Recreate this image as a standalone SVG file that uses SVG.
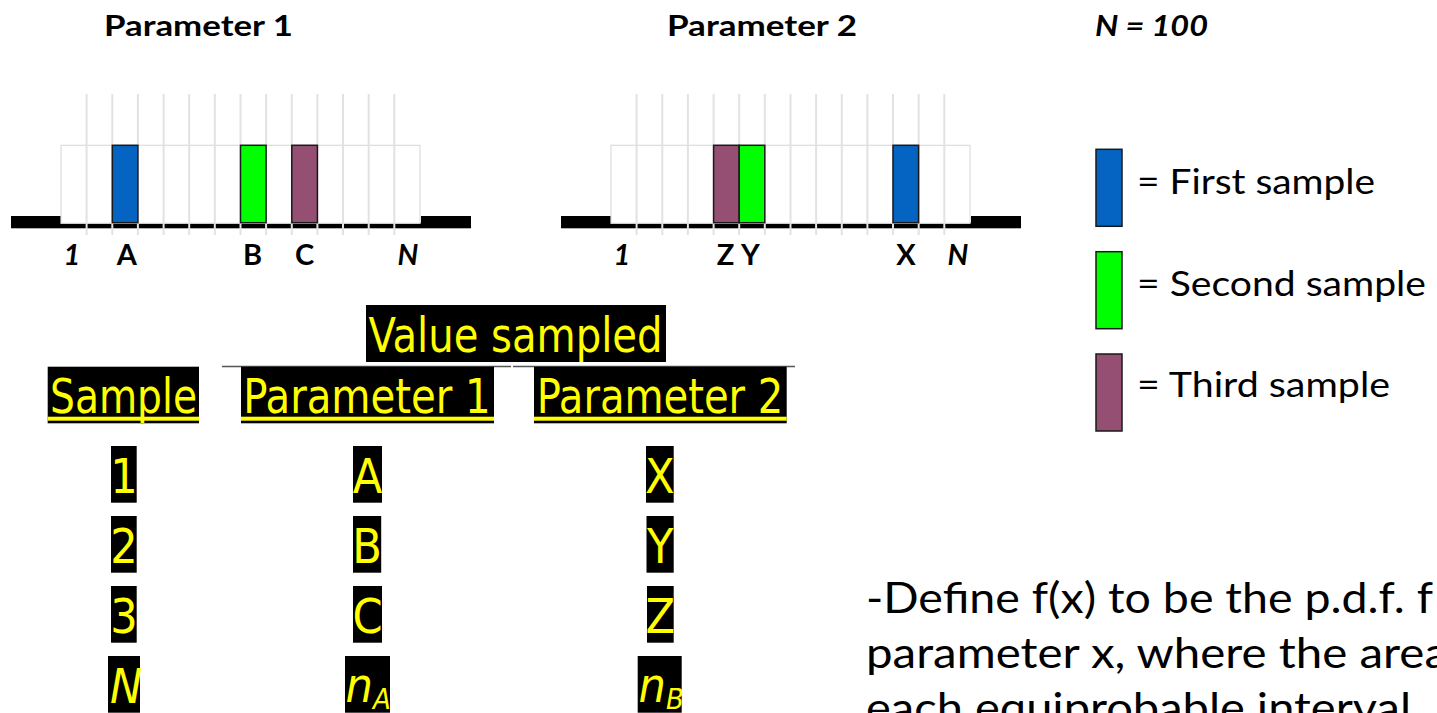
<svg xmlns="http://www.w3.org/2000/svg" xmlns:xlink="http://www.w3.org/1999/xlink" width="1437" height="713" viewBox="0 0 1437 713">
<style>
.title{font-family:Lato,"Liberation Sans",sans-serif;font-weight:bold;font-size:28px;fill:#000}
.axis{font-family:Lato,"Liberation Sans",sans-serif;font-weight:bold;font-size:29px;fill:#000;text-anchor:middle}
.it{font-style:italic}
.leg{font-family:Lato,"Liberation Sans",sans-serif;font-size:35px;fill:#000}
.para{font-family:Lato,"Liberation Sans",sans-serif;font-size:43px;fill:#000}
.ybox{fill:#000}
.ytxt{font-family:"DejaVu Sans Condensed","DejaVu Sans",sans-serif;font-stretch:condensed;font-size:48px;fill:#FFFF00}
.ymid{text-anchor:middle}
.grid{stroke:#e2e2e2;stroke-width:2}
.bar{stroke:#1a1a1a;stroke-width:1.5}
.blue{fill:#0563C1}
.green{fill:#00FF00}
.purple{fill:#954F72}
</style>
<defs>
<g id="scale">
<rect x="11" y="216" width="50" height="12.3" fill="#000"/>
<rect x="421" y="216" width="50" height="12.3" fill="#000"/>
<rect x="61" y="222.7" width="360" height="5.6" fill="#000"/>
<rect x="61" y="145.3" width="359" height="78" fill="#fff" stroke="#dcdcdc" stroke-width="1.2"/>
<g class="grid">
<line x1="86.6" y1="94" x2="86.6" y2="235"/>
<line x1="112.3" y1="94" x2="112.3" y2="235"/>
<line x1="137.9" y1="94" x2="137.9" y2="235"/>
<line x1="163.6" y1="94" x2="163.6" y2="235"/>
<line x1="189.2" y1="94" x2="189.2" y2="235"/>
<line x1="214.8" y1="94" x2="214.8" y2="235"/>
<line x1="240.5" y1="94" x2="240.5" y2="235"/>
<line x1="266.1" y1="94" x2="266.1" y2="235"/>
<line x1="291.8" y1="94" x2="291.8" y2="235"/>
<line x1="317.4" y1="94" x2="317.4" y2="235"/>
<line x1="343.0" y1="94" x2="343.0" y2="235"/>
<line x1="368.7" y1="94" x2="368.7" y2="235"/>
<line x1="394.3" y1="94" x2="394.3" y2="235"/>
</g>
</g>
</defs>
<rect width="1437" height="713" fill="#fff"/>

<g id="titles">
<text class="title" x="104" y="36" textLength="189" lengthAdjust="spacingAndGlyphs">Parameter 1</text>
<text class="title" x="667" y="36" textLength="190" lengthAdjust="spacingAndGlyphs">Parameter 2</text>
<text class="title it" x="1095" y="36" textLength="113" lengthAdjust="spacingAndGlyphs">N = 100</text>
</g>

<g id="parameter1-scale">
<use xlink:href="#scale" href="#scale"/>
<rect class="bar blue" x="112.3" y="145.3" width="25.6" height="77.4"/>
<rect class="bar green" x="240.5" y="145.3" width="25.6" height="77.4"/>
<rect class="bar purple" x="291.8" y="145.3" width="25.6" height="77.4"/>
<text class="axis it" x="72" y="265">1</text>
<text class="axis" x="126.7" y="265">A</text>
<text class="axis" x="252.5" y="265">B</text>
<text class="axis" x="304.5" y="265">C</text>
<text class="axis it" x="408" y="265">N</text>
</g>

<g id="parameter2-scale">
<use xlink:href="#scale" href="#scale" x="550"/>
<rect class="bar purple" x="713.6" y="145.3" width="25.6" height="77.4"/>
<rect class="bar green" x="739.2" y="145.3" width="25.6" height="77.4"/>
<rect class="bar blue" x="893.0" y="145.3" width="25.6" height="77.4"/>
<text class="axis it" x="622" y="265">1</text>
<text class="axis" x="725.5" y="265">Z</text>
<text class="axis" x="750.5" y="265">Y</text>
<text class="axis" x="906" y="265">X</text>
<text class="axis it" x="958" y="265">N</text>
</g>

<g id="legend">
<rect class="bar blue" x="1096" y="149.3" width="26" height="77"/>
<text class="leg" x="1137" y="194" textLength="238" lengthAdjust="spacingAndGlyphs">= First sample</text>
<rect class="bar green" x="1096" y="251.7" width="26" height="77"/>
<text class="leg" x="1137" y="296" textLength="289" lengthAdjust="spacingAndGlyphs">= Second sample</text>
<rect class="bar purple" x="1096" y="354" width="26" height="77"/>
<text class="leg" x="1137" y="397" textLength="253" lengthAdjust="spacingAndGlyphs">= Third sample</text>
</g>

<g id="table-header">
<rect class="ybox" x="366" y="305" width="300" height="57"/>
<text class="ytxt" x="368.5" y="352" textLength="294" lengthAdjust="spacingAndGlyphs">Value sampled</text>
<line x1="222" y1="366.5" x2="511" y2="366.5" stroke="#555" stroke-width="1.5"/>
<line x1="513" y1="366.5" x2="795" y2="366.5" stroke="#555" stroke-width="1.5"/>
<rect class="ybox" x="47.7" y="366.7" width="151.3" height="56.6"/>
<text class="ytxt" x="50" y="413.3" textLength="147" lengthAdjust="spacingAndGlyphs">Sample</text>
<rect x="47.7" y="416.7" width="151.3" height="4" fill="#FFFF00"/>
<rect class="ybox" x="241" y="366.7" width="253" height="56.6"/>
<text class="ytxt" x="243.3" y="413.3" textLength="247.4" lengthAdjust="spacingAndGlyphs">Parameter 1</text>
<rect x="241" y="416.7" width="253" height="4" fill="#FFFF00"/>
<rect class="ybox" x="534" y="366.7" width="252.7" height="56.6"/>
<text class="ytxt" x="536.7" y="413.3" textLength="246.6" lengthAdjust="spacingAndGlyphs">Parameter 2</text>
<rect x="534" y="416.7" width="252.7" height="4" fill="#FFFF00"/>
</g>

<g id="table-row1">
<rect class="ybox" x="111" y="446" width="25.7" height="56.7"/>
<text class="ytxt ymid" x="123.9" y="493.3">1</text>
<rect class="ybox" x="353" y="446" width="29" height="56.7"/>
<text class="ytxt ymid" x="367.5" y="493.3">A</text>
<rect class="ybox" x="646" y="446" width="27.7" height="56.7"/>
<text class="ytxt ymid" x="659.9" y="493.3">X</text>
</g>
<g id="table-row2">
<rect class="ybox" x="111" y="516" width="25.7" height="56.7"/>
<text class="ytxt ymid" x="123.9" y="563.3">2</text>
<rect class="ybox" x="353" y="516" width="28.2" height="56.7"/>
<text class="ytxt ymid" x="367.1" y="563.3">B</text>
<rect class="ybox" x="646.5" y="516" width="27.2" height="56.7"/>
<text class="ytxt ymid" x="660.1" y="563.3">Y</text>
</g>
<g id="table-row3">
<rect class="ybox" x="111" y="586" width="25.7" height="56.7"/>
<text class="ytxt ymid" x="123.9" y="633.3">3</text>
<rect class="ybox" x="353" y="586" width="29" height="56.7"/>
<text class="ytxt ymid" x="367.5" y="633.3">C</text>
<rect class="ybox" x="647" y="586" width="26.7" height="56.7"/>
<text class="ytxt ymid" x="660.3" y="633.3">Z</text>
</g>
<g id="table-row4">
<rect class="ybox" x="108" y="656" width="32" height="56.7"/>
<text class="ytxt it" x="110" y="703.3" font-style="italic">N</text>
<rect class="ybox" x="345" y="656" width="45" height="56.7"/>
<text class="ytxt" x="345.5" y="702" font-style="italic">n<tspan font-size="29" dy="7">A</tspan></text>
<rect class="ybox" x="637.7" y="656" width="44" height="56.7"/>
<text class="ytxt" x="638.5" y="702" font-style="italic">n<tspan font-size="29" dy="7">B</tspan></text>
</g>

<g id="description">
<text class="para" x="866" y="613" textLength="567" lengthAdjust="spacingAndGlyphs">-Define f(x) to be the p.d.f. f</text>
<text class="para" x="866" y="668" textLength="582" lengthAdjust="spacingAndGlyphs">parameter x, where the area</text>
<text class="para" x="866" y="723" textLength="545" lengthAdjust="spacingAndGlyphs">each equiprobable interval</text>
</g>
</svg>
